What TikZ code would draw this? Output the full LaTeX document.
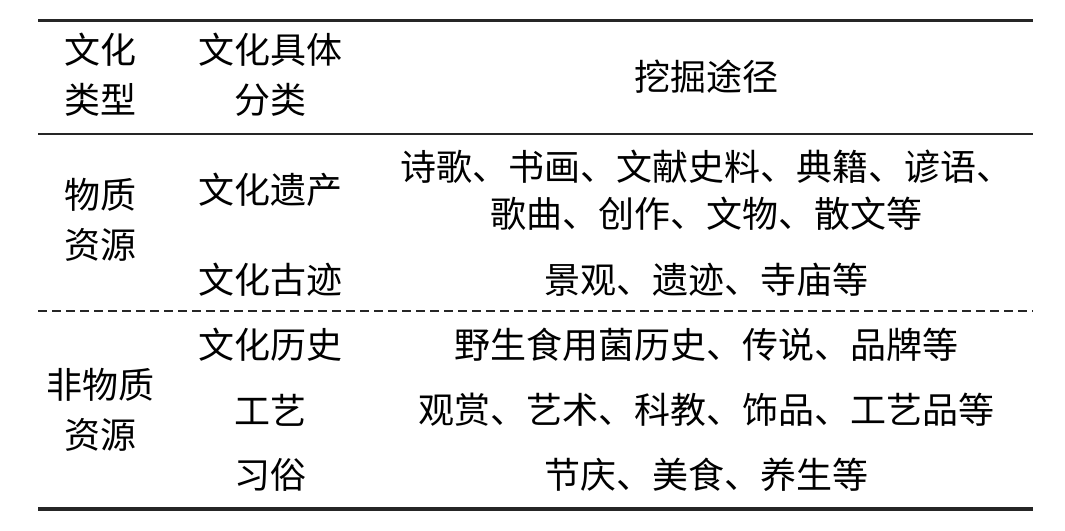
\documentclass[tikz,border=0pt]{standalone}
\usepackage{fontspec}
\newfontfamily\cjk{Noto Sans CJK SC}

\begin{document}
\begin{tikzpicture}[x=1pt,y=-1pt,
    cell/.style = {inner sep=0pt, align=center, font=\cjk\fontsize{36}{50}\selectfont},
    rule/.style = {line width=#1, black!85}]
    \useasboundingbox (0,0) rectangle (1065,530);

    % Rules
    \coordinate (tl) at (38,20);   \coordinate (tr) at (1033,20);
    \coordinate (hl) at (38,134);  \coordinate (hr) at (1033,134);
    \coordinate (ml) at (38,311);  \coordinate (mr) at (1033,311);
    \coordinate (bl) at (38,509);  \coordinate (br) at (1033,509);
    \draw[rule=3pt] (tl) -- (tr);
    \draw[rule=2pt] (hl) -- (hr);
    \draw[rule=1.3pt, dash pattern=on 9pt off 5pt] (ml) -- (mr);
    \draw[rule=3.5pt] (bl) -- (br);

    % Header
    \node[cell] (type)  at (100,75)  {文化\\类型};
    \node[cell] (class) at (270,75)  {文化具体\\分类};
    \node[cell] (way)   at (706,77)  {挖掘途径};

    % Material
    \node[cell] (mat)   at (100,220) {物质\\资源};
    \node[cell] (herit) at (270,190) {文化遗产};
    \node[cell, font=\cjk\fontsize{36}{47}\selectfont] (heritway) at (706,190)
        {诗歌、书画、文献史料、典籍、谚语、\\歌曲、创作、文物、散文等};
    \node[cell] (relic) at (270,280) {文化古迹};
    \node[cell] (relicway) at (706,280) {景观、遗迹、寺庙等};

    % Non-material
    \node[cell] (nmat)  at (100,410) {非物质\\资源};
    \node[cell] (hist)  at (270,345) {文化历史};
    \node[cell] (histway) at (706,345) {野生食用菌历史、传说、品牌等};
    \node[cell] (craft) at (270,410) {工艺};
    \node[cell] (craftway) at (706,410) {观赏、艺术、科教、饰品、工艺品等};
    \node[cell] (custom) at (270,475) {习俗};
    \node[cell] (customway) at (706,475) {节庆、美食、养生等};

\end{tikzpicture}
\end{document}
